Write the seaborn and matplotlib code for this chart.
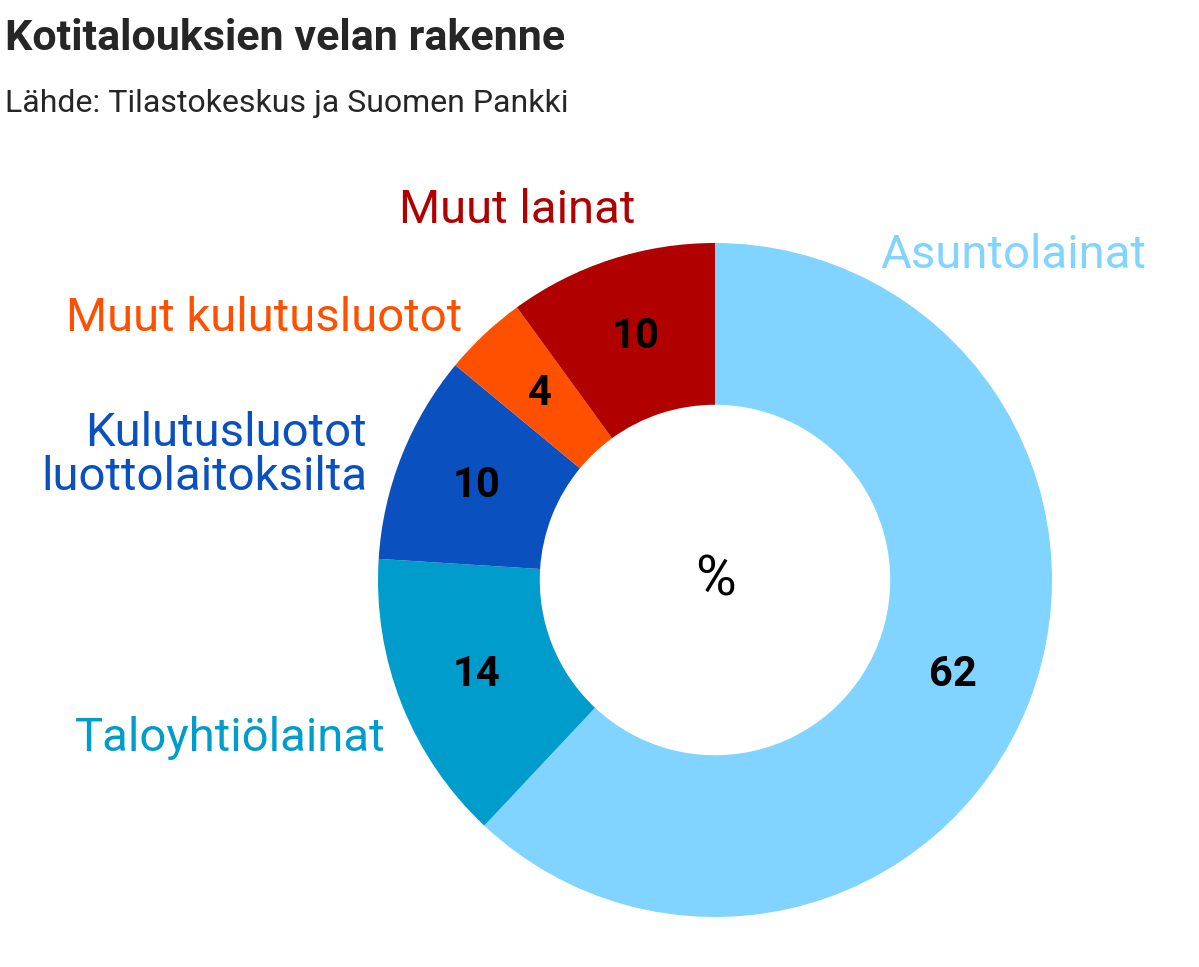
import matplotlib
matplotlib.use("Agg")
import matplotlib.pyplot as plt
import seaborn as sns
import numpy as np

categories = ["Asuntolainat", "Taloyhtiölainat", "Kulutusluotot\nluottolaitoksilta", "Muut kulutusluotot", "Muut lainat"]
values = [62, 14, 10, 4, 10]
colors = ["#80d4ff", "#009ccc", "#0a50be", "#ff5000", "#b00000"]

sns.set_theme(style="white")
plt.rcParams['font.family'] = ['Liberation Sans Narrow', 'Roboto', 'DejaVu Sans']

W, H = 1199, 967
fig = plt.figure(figsize=(W/100, H/100), dpi=100)
cx, cy, R = 715, 580, 337
ax = fig.add_axes([(cx-R)/W, 1-(cy+R)/H, 2*R/W, 2*R/H])
wedges, _ = ax.pie(values, colors=colors, startangle=90, counterclock=False,
                   radius=1, wedgeprops=dict(width=0.48, linewidth=0))
ax.set_xlim(-1, 1); ax.set_ylim(-1, 1); ax.set_aspect('equal')
ax.axis('off')

total = sum(values)
cum = 0
for v in values:
    mid = 90 - (cum + v/2)/total*360
    cum += v
    a = np.deg2rad(mid)
    ax.text(0.76*np.cos(a), 0.76*np.sin(a), str(v), ha='center', va='center',
            fontsize=30, fontweight='bold', color='black')
ax.text(0, 0, "%", ha='center', va='center', fontsize=40, color='black')

label_pos = [(880, 255, 'left'), (385, 738, 'right'), (367, 455, 'right'),
             (462, 318, 'right'), (635, 210, 'right')]
for lab, (x, y, ha), c in zip(categories, label_pos, colors):
    fig.text(x/W, 1-y/H, lab, ha=ha, va='center', fontsize=34, color=c, linespacing=1.0)

fig.text(5/W, 1-38/H, "Kotitalouksien velan rakenne", fontsize=31, fontweight='bold', va='center')
fig.text(5/W, 1-103/H, "Lähde: Tilastokeskus ja Suomen Pankki", fontsize=23, va='center')

fig.savefig("out.png", dpi=100, facecolor='white')
